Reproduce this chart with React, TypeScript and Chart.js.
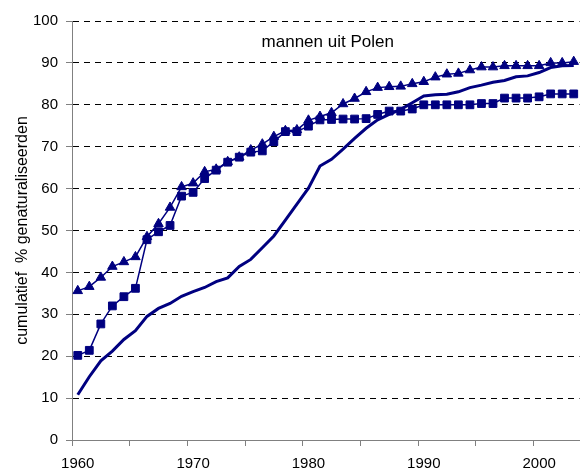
import React, { useEffect, useRef } from 'react';
import { Chart, registerables } from 'chart.js';

Chart.register(...registerables);

const chartTitle = 'mannen uit Polen';
const yAxisTitle = 'cumulatief  % genaturaliseerden';

const years = [
  '1960', '1961', '1962', '1963', '1964', '1965', '1966', '1967', '1968', '1969',
  '1970', '1971', '1972', '1973', '1974', '1975', '1976', '1977', '1978', '1979',
  '1980', '1981', '1982', '1983', '1984', '1985', '1986', '1987', '1988', '1989',
  '1990', '1991', '1992', '1993', '1994', '1995', '1996', '1997', '1998', '1999',
  '2000', '2001', '2002', '2003',
];

const triangleSeries = [
  35.6, 36.6, 38.8, 41.4, 42.5, 43.7, 48.5, 51.6, 55.5, 60.4,
  61.3, 64.0, 64.6, 66.4, 67.5, 69.2, 70.6, 72.4, 73.8, 74.0,
  76.3, 77.2, 78.1, 80.2, 81.5, 83.1, 84.1, 84.3, 84.4, 85.0,
  85.5, 86.6, 87.3, 87.5, 88.3, 89.0, 89.0, 89.3, 89.3, 89.3,
  89.3, 90.0, 90.0, 90.3,
];

const squareSeries = [
  20.2, 21.4, 27.7, 32.0, 34.2, 36.2, 47.8, 49.7, 51.2, 58.2,
  59.1, 62.4, 64.4, 66.3, 67.5, 68.7, 69.0, 71.2, 73.6, 73.6,
  74.9, 76.4, 76.5, 76.6, 76.6, 76.7, 77.7, 78.5, 78.5, 79.0,
  80.0, 80.0, 80.0, 80.0, 80.0, 80.3, 80.3, 81.6, 81.6, 81.6,
  81.9, 82.6, 82.6, 82.6,
];

const lineSeries = [
  10.8, 15.1, 18.9, 21.2, 24.0, 26.1, 29.5, 31.4, 32.6, 34.3,
  35.4, 36.4, 37.8, 38.7, 41.4, 43.1, 45.9, 48.7, 52.5, 56.3,
  60.1, 65.4, 67.0, 69.4, 72.0, 74.4, 76.4, 77.7, 78.9, 80.5,
  82.1, 82.4, 82.5, 83.1, 84.1, 84.7, 85.4, 85.8, 86.7, 86.9,
  87.7, 88.9, 89.3, 89.4,
];

const NAVY = '#000080';
const AXIS_GRAY = '#808080';
const FONT = '"Liberation Sans", Arial, sans-serif';

const innerTitlePlugin = {
  id: 'innerTitle',
  afterDraw(chart: any) {
    const { ctx, chartArea } = chart;
    ctx.save();
    ctx.font = `17px ${FONT}`;
    ctx.fillStyle = '#000';
    ctx.textAlign = 'center';
    ctx.textBaseline = 'middle';
    ctx.fillText(chartTitle, (chartArea.left + chartArea.right) / 2 + 2, chartArea.top + 21.5);
    ctx.restore();
  },
};

export default function App() {
  const canvasRef = useRef<HTMLCanvasElement | null>(null);

  useEffect(() => {
    const canvas = canvasRef.current;
    if (!canvas) return;
    const chart = new Chart(canvas, {
      type: 'line',
      data: {
        labels: years,
        datasets: [
          {
            label: 'driehoek',
            data: triangleSeries,
            borderColor: NAVY,
            backgroundColor: NAVY,
            borderWidth: 1.5,
            pointStyle: 'triangle',
            pointRadius: 5.5,
            pointBorderWidth: 1,
            pointBackgroundColor: NAVY,
            pointBorderColor: NAVY,
            tension: 0,
          },
          {
            label: 'vierkant',
            data: squareSeries,
            borderColor: NAVY,
            backgroundColor: NAVY,
            borderWidth: 1.5,
            pointStyle: 'rect',
            pointRadius: 5.5,
            pointBorderWidth: 1,
            pointBackgroundColor: NAVY,
            pointBorderColor: NAVY,
            tension: 0,
          },
          {
            label: 'lijn',
            data: lineSeries,
            borderColor: NAVY,
            backgroundColor: NAVY,
            borderWidth: 3,
            pointRadius: 0,
            tension: 0,
          },
        ],
      },
      options: {
        responsive: false,
        animation: false,
        devicePixelRatio: 1,
        layout: { padding: { top: 21, left: 0, right: 0, bottom: 0 } },
        plugins: {
          legend: { display: false },
          tooltip: { enabled: false },
          title: { display: false },
        },
        scales: {
          x: {
            type: 'category',
            offset: true,
            grid: {
              offset: true,
              drawOnChartArea: false,
              drawTicks: true,
              tickLength: 6,
              color: (ctx: any) => (ctx.index % 5 === 0 ? AXIS_GRAY : 'rgba(0,0,0,0)'),
            },
            border: { display: true, color: AXIS_GRAY, width: 1 },
            ticks: {
              autoSkip: false,
              maxRotation: 0,
              minRotation: 0,
              padding: 9,
              color: '#000',
              font: { family: FONT, size: 15 },
              callback: (_v: any, index: number) => (index % 10 === 0 ? years[index] : ''),
            },
            afterFit: (scale: any) => {
              scale.height = 36;
            },
          },
          y: {
            min: 0,
            max: 100,
            ticks: {
              stepSize: 10,
              padding: 8,
              color: '#000',
              font: { family: FONT, size: 15 },
            },
            grid: {
              color: (ctx: any) => (ctx.tick && ctx.tick.value === 0 ? 'rgba(0,0,0,0)' : '#000'),
              tickColor: AXIS_GRAY,
              tickLength: 6,
              lineWidth: 1,
            },
            border: { display: true, color: AXIS_GRAY, width: 1, dash: [6, 5] },
            title: {
              display: true,
              text: yAxisTitle,
              color: '#000',
              font: { family: FONT, size: 16 },
              padding: { top: 13, bottom: 0 },
            },
            afterFit: (scale: any) => {
              scale.width = 72;
            },
          },
        },
      },
      plugins: [innerTitlePlugin],
    });
    return () => chart.destroy();
  }, []);

  return (
    <div
      style={{
        position: 'absolute',
        left: 0,
        top: 0,
        width: 583,
        height: 476,
        overflow: 'hidden',
        background: '#fff',
      }}
    >
      <canvas ref={canvasRef} width={586} height={476} style={{ display: 'block' }} />
    </div>
  );
}
